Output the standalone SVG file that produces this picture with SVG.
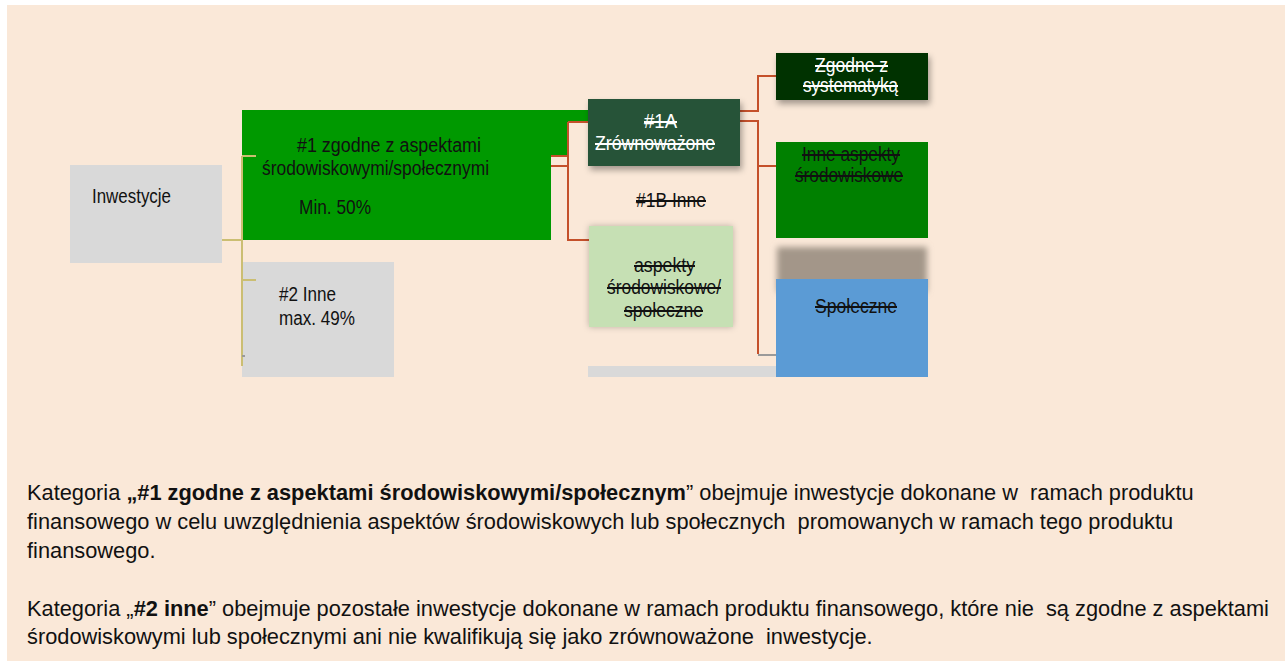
<svg xmlns="http://www.w3.org/2000/svg" width="1285" height="661" viewBox="0 0 1285 661">
  <defs>
    <filter id="shadow" x="-20%" y="-20%" width="150%" height="160%">
      <feDropShadow dx="2" dy="4" stdDeviation="3" flood-color="#000" flood-opacity="0.35"/>
    </filter>
    <filter id="glow" x="-20%" y="-20%" width="140%" height="140%">
      <feDropShadow dx="0" dy="0" stdDeviation="3" flood-color="#000" flood-opacity="0.25"/>
    </filter>
    <filter id="blur" x="-20%" y="-40%" width="140%" height="180%">
      <feGaussianBlur stdDeviation="3"/>
    </filter>
    <style>
      text { font-family: "Liberation Sans", Arial, sans-serif; white-space: pre; }
      .n { font-size: 20px; fill: #111; }
      .w { fill: #fff; }
      .s { text-decoration: line-through; }
      .body { font-size: 21.8px; fill: #111; }
      .b { font-weight: bold; }
      .tan { stroke: #CBBE72; stroke-width: 2; fill: none; }
      .red { stroke: #C4502A; stroke-width: 2; fill: none; }
      .gry { stroke: #9A9A9A; stroke-width: 2; fill: none; }
    </style>
  </defs>

  <rect x="0" y="0" width="1285" height="661" fill="#ffffff"/>
  <rect x="7" y="5" width="1278" height="656" fill="#FAE8D8"/>

  <g id="node-inwestycje">
    <rect x="70" y="165" width="152" height="98" fill="#D9D9D9"/>
    <text class="n" x="92" y="203" textLength="79" lengthAdjust="spacingAndGlyphs">Inwestycje</text>
  </g>

  <g id="node-1">
    <polygon points="242,110 588,110 588,122 568,122 568,156 551,156 551,240 242,240" fill="#009900"/>
    <text class="n" x="297" y="152" textLength="184" lengthAdjust="spacingAndGlyphs">#1 zgodne z aspektami</text>
    <text class="n" x="262" y="175" textLength="227" lengthAdjust="spacingAndGlyphs">środowiskowymi/społecznymi</text>
    <text class="n" x="299" y="214" textLength="72" lengthAdjust="spacingAndGlyphs">Min. 50%</text>
  </g>

  <g id="node-2">
    <rect x="242" y="262" width="152" height="115" fill="#D9D9D9"/>
    <text class="n" x="279" y="301" textLength="57" lengthAdjust="spacingAndGlyphs">#2 Inne</text>
    <text class="n" x="279" y="325" textLength="76" lengthAdjust="spacingAndGlyphs">max. 49%</text>
  </g>

  <g id="bar">
    <rect x="588" y="366" width="188" height="11" fill="#D9D9D9"/>
  </g>

  <g id="connectors">
    <path class="tan" d="M222,240 H242 M242,156 V366 M242,156 H256 M242,280 H256"/>
    <path class="gry" d="M242,356 H245" stroke-width="1"/>
    <path class="red" d="M551,156 H568 M551,166 H568 M568,122 V241 M568,122 H588 M568,240 H589"/>
    <path class="red" d="M740,111 H758 V76 H776 M740,121 H758 V354 M758,166 H776"/>
    <path class="gry" d="M758,355 H776"/>
  </g>

  <g id="node-1a">
    <rect x="588" y="99" width="152" height="67" fill="#255239" filter="url(#shadow)"/>
    <text class="n w s" x="644" y="128" textLength="33" lengthAdjust="spacingAndGlyphs">#1A</text>
    <text class="n w s" x="595" y="150" textLength="120" lengthAdjust="spacingAndGlyphs">Zrównoważone</text>
  </g>

  <g id="node-1b">
    <text class="n s" x="636" y="207" textLength="70" lengthAdjust="spacingAndGlyphs">#1B Inne</text>
  </g>

  <g id="node-aspekty">
    <rect x="589" y="226" width="144" height="101" fill="#C6E0B4" filter="url(#glow)"/>
    <text class="n s" x="634" y="272" textLength="61" lengthAdjust="spacingAndGlyphs">aspekty</text>
    <text class="n s" x="607" y="294" textLength="114" lengthAdjust="spacingAndGlyphs">środowiskowe/</text>
    <text class="n s" x="624" y="317" textLength="79" lengthAdjust="spacingAndGlyphs">społeczne</text>
  </g>

  <g id="node-zgodne">
    <rect x="776" y="53" width="152" height="47" fill="#003300" filter="url(#shadow)"/>
    <text class="n w s" x="815" y="72" textLength="73" lengthAdjust="spacingAndGlyphs">Zgodne z</text>
    <text class="n w s" x="803" y="92" textLength="95" lengthAdjust="spacingAndGlyphs">systematyką</text>
  </g>

  <g id="node-inne-aspekty">
    <rect x="776" y="142" width="152" height="96" fill="#008000"/>
    <text class="n s" x="802" y="161" textLength="98" lengthAdjust="spacingAndGlyphs">Inne aspekty</text>
    <text class="n s" x="795" y="182" textLength="108" lengthAdjust="spacingAndGlyphs">środowiskowe</text>
  </g>

  <g id="node-spoleczne">
    <rect x="777" y="247" width="150" height="45" fill="#A39689" filter="url(#blur)"/>
    <rect x="776" y="279" width="152" height="98" fill="#5B9BD5"/>
    <text class="n s" x="815" y="313" textLength="82" lengthAdjust="spacingAndGlyphs">Społeczne</text>
  </g>

  <g id="description">
    <text class="body" x="27" y="500">Kategoria <tspan class="b">„#1 zgodne z aspektami środowiskowymi/społecznym</tspan>” obejmuje inwestycje dokonane w  ramach produktu</text>
    <text class="body" x="27" y="529">finansowego w celu uwzględnienia aspektów środowiskowych lub społecznych  promowanych w ramach tego produktu</text>
    <text class="body" x="27" y="558">finansowego.</text>
    <text class="body" x="27" y="616">Kategoria „<tspan class="b">#2 inne</tspan>” obejmuje pozostałe inwestycje dokonane w ramach produktu finansowego, które nie  są zgodne z aspektami</text>
    <text class="body" x="27" y="644">środowiskowymi lub społecznymi ani nie kwalifikują się jako zrównoważone  inwestycje.</text>
  </g>
</svg>
